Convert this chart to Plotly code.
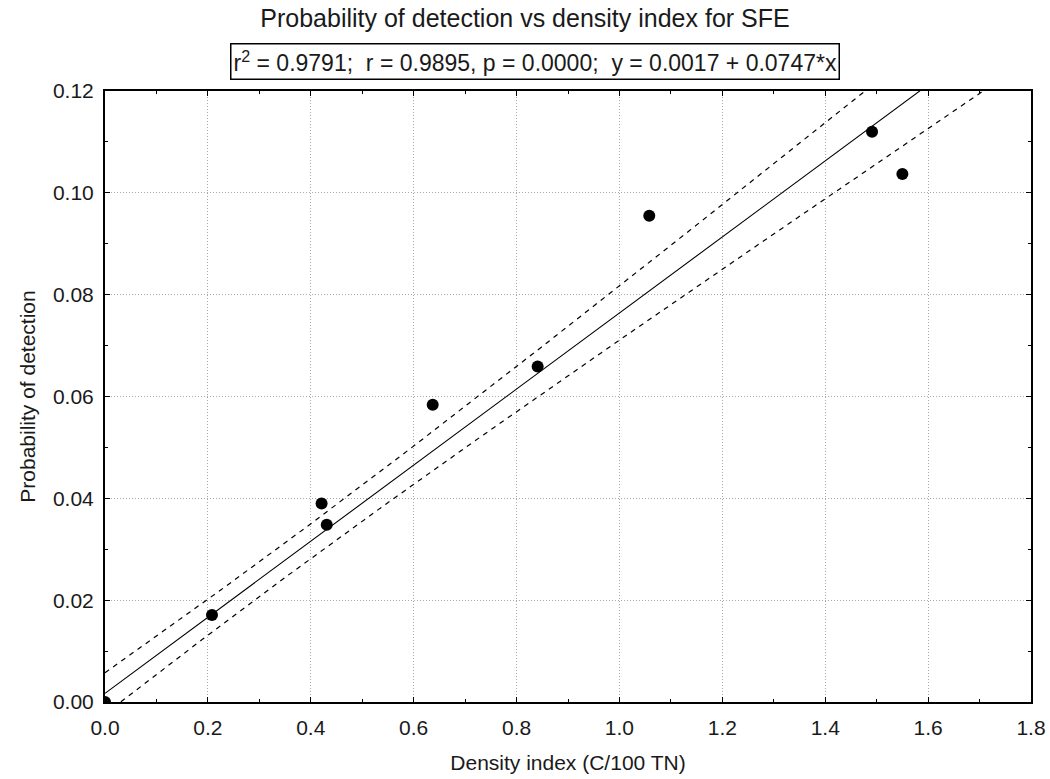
import numpy as np
import plotly.graph_objects as go

# Data
density = [0.0, 0.208, 0.421, 0.431, 0.637, 0.841, 1.058, 1.491, 1.550]
prob = [0.0, 0.0171, 0.0390, 0.0348, 0.0584, 0.0659, 0.0955, 0.1120, 0.1037]
x_ticks = [0.0, 0.2, 0.4, 0.6, 0.8, 1.0, 1.2, 1.4, 1.6, 1.8]
y_ticks = [0.00, 0.02, 0.04, 0.06, 0.08, 0.10, 0.12]
title = "Probability of detection vs density index for SFE"
stats = ("r<sup>2</sup> = 0.9791;&nbsp; r = 0.9895, p = 0.0000;&nbsp; "
         "y = 0.0017 + 0.0747*x")

# Regression line stated on the chart, and its 95% band
fit_intercept = 0.0017
fit_slope = 0.0747
band_center = 0.35
band_min_halfwidth = 0.0034
band_growth = 0.0063

xs = np.linspace(0, 1.8, 400)
yf = fit_intercept + fit_slope * xs
hw = np.sqrt(band_min_halfwidth ** 2 + (band_growth * (xs - band_center)) ** 2)

dash = "5px,5px"
fig = go.Figure()
fig.add_trace(go.Scatter(x=xs, y=yf + hw, mode="lines",
                         line=dict(color="black", width=1.2, dash=dash),
                         hoverinfo="skip"))
fig.add_trace(go.Scatter(x=xs, y=yf - hw, mode="lines",
                         line=dict(color="black", width=1.2, dash=dash),
                         hoverinfo="skip"))
fig.add_trace(go.Scatter(x=xs, y=yf, mode="lines",
                         line=dict(color="black", width=1.1),
                         hoverinfo="skip"))
fig.add_trace(go.Scatter(x=density, y=prob, mode="markers",
                         marker=dict(color="black", size=12),
                         cliponaxis=True))

font = "Liberation Sans, Arial, sans-serif"
txt = "#1a1a1a"
axis_common = dict(
    showline=True, linecolor="black", linewidth=2, mirror="ticks",
    ticks="inside", ticklen=5, tickcolor="black", tickwidth=1,
    showgrid=True, gridcolor="#a8a8a8", griddash="1px,2px", gridwidth=1,
    zeroline=False, automargin=False,
    tickfont=dict(family=font, size=21, color=txt),
)
fig.update_layout(
    width=1050, height=779,
    margin=dict(l=105, r=19, t=91, b=77),
    paper_bgcolor="white", plot_bgcolor="white",
    showlegend=False,
    font=dict(family=font, color=txt),
    title=dict(text=title, x=0.5, xanchor="center", y=0.977, yanchor="middle",
               font=dict(family=font, size=25, color=txt)),
    xaxis=dict(range=[0, 1.8], tickvals=x_ticks,
               ticktext=[f"{v:.1f}" for v in x_ticks],
               ticklabelstandoff=6,
               minor=dict(ticks="inside", ticklen=3, tickcolor="black",
                          dtick=0.1, showgrid=False),
               title=dict(text="Density index (C/100 TN)",
                          font=dict(family=font, size=21), standoff=17),
               **axis_common),
    yaxis=dict(range=[0, 0.12], tickvals=y_ticks,
               ticktext=[f"{v:.2f}" for v in y_ticks],
               ticklabelstandoff=5,
               minor=dict(ticks="inside", ticklen=3, tickcolor="black",
                          dtick=0.01, showgrid=False),
               title=dict(text="Probability of detection",
                          font=dict(family=font, size=21), standoff=12),
               **axis_common),
)
fig.add_annotation(text=stats, xref="paper", yref="paper",
                   x=(535 - 105) / 926, y=(702 - 61) / 611,
                   xanchor="center", yanchor="middle", showarrow=False,
                   font=dict(family=font, size=23, color=txt),
                   bordercolor="black", borderwidth=1.5, borderpad=2,
                   bgcolor="white")
fig.write_html("out.html")
